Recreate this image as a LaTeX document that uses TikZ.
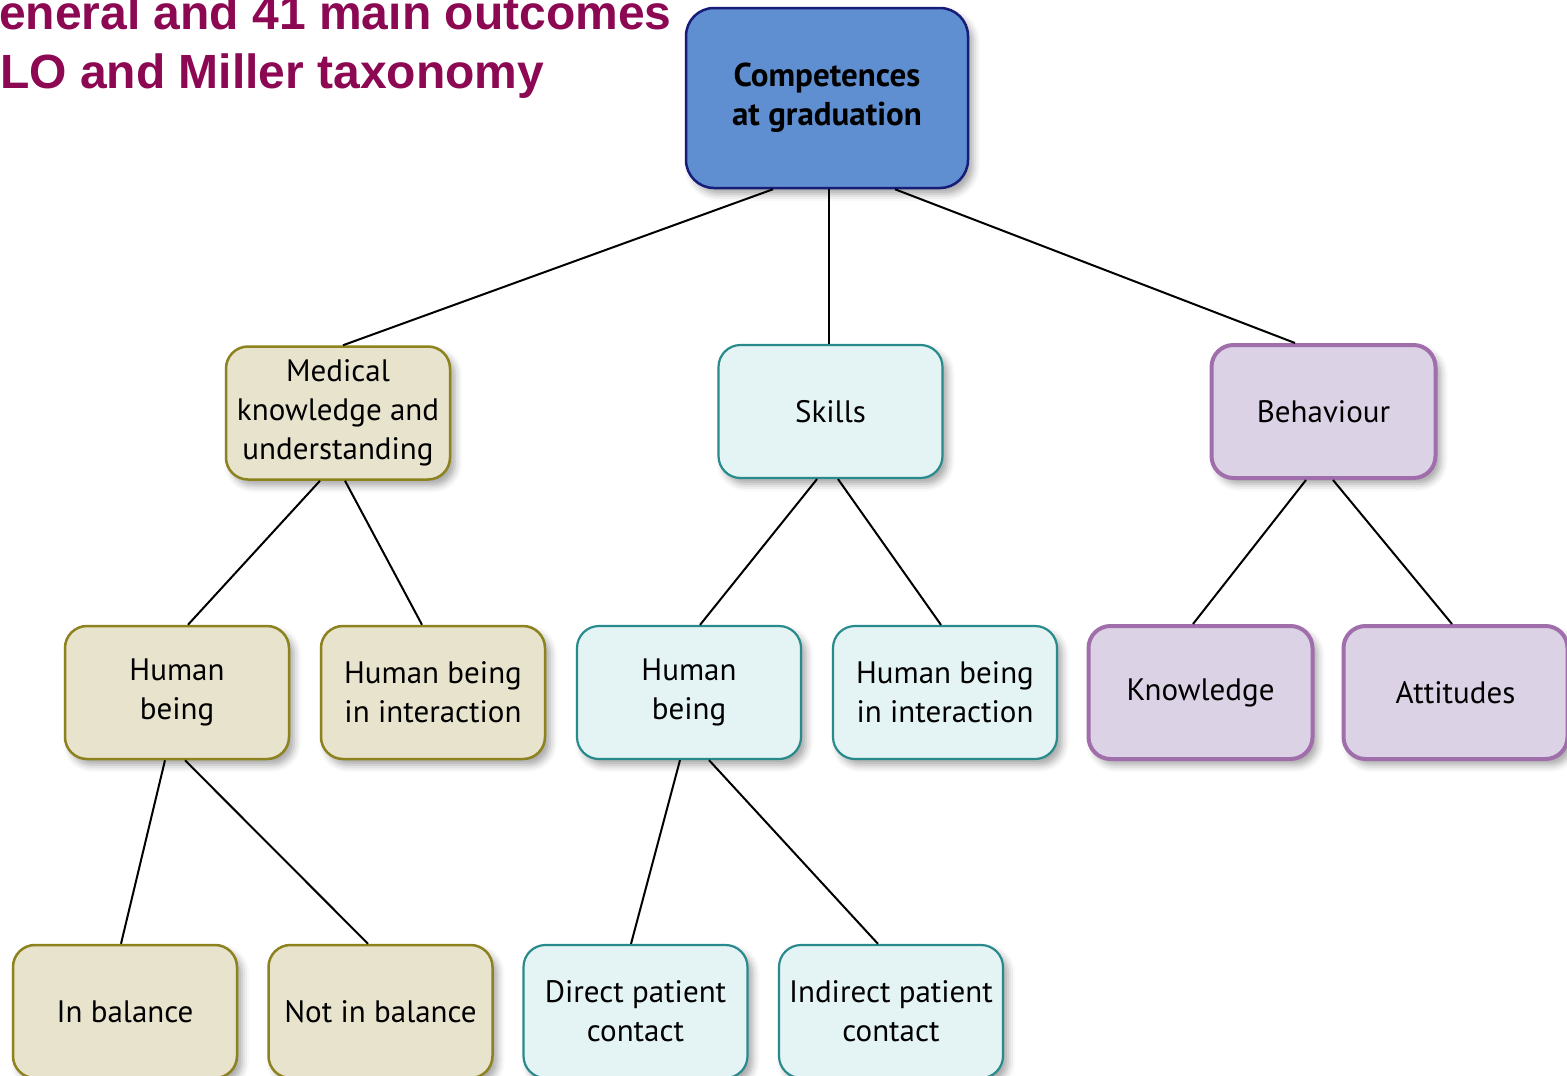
\documentclass[tikz,border=0pt]{standalone}
\usepackage{fontspec}
\setmainfont{PT Sans}
\newfontfamily\titlefont{Liberation Sans}
\usetikzlibrary{shadows.blur}
\definecolor{topfill}{RGB}{95,143,208}
\definecolor{topdraw}{RGB}{22,28,120}
\definecolor{olfill}{RGB}{232,227,205}
\definecolor{oldraw}{RGB}{140,130,30}
\definecolor{tefill}{RGB}{228,244,244}
\definecolor{tedraw}{RGB}{40,138,140}
\definecolor{pufill}{RGB}{220,210,230}
\definecolor{pudraw}{RGB}{160,110,170}
\definecolor{titlecol}{RGB}{140,8,82}
\tikzset{
  box/.style={rectangle, rounded corners=22pt, minimum width=224pt, minimum height=133pt,
    align=center, inner sep=2pt, font=\fontsize{31}{39}\selectfont,
    blur shadow={shadow xshift=5pt, shadow yshift=-6pt, shadow blur radius=7pt, shadow opacity=35}},
  olbox/.style={box, fill=olfill, draw=oldraw, line width=2.5pt},
  tebox/.style={box, fill=tefill, draw=tedraw, line width=2.2pt},
  pubox/.style={box, fill=pufill, draw=pudraw, line width=4pt},
  topbox/.style={box, fill=topfill, draw=topdraw, line width=2.5pt, minimum width=282pt,
    minimum height=180pt, rounded corners=28pt, font=\bfseries\fontsize{33}{39}\selectfont},
  link/.style={draw=black, line width=2pt},
  ttl/.style={anchor=base west, inner sep=0pt, text=titlecol, font=\titlefont\bfseries\fontsize{48}{58}\selectfont}
}
\begin{document}
\begin{tikzpicture}[x=1pt, y=-1pt]
\useasboundingbox (0,0) rectangle (1567,1076);
\clip (0,0) rectangle (1567,1076);
\node[ttl] (t1) at (-1,30) {eneral and 41 main outcomes};
\node[ttl] (t2) at (0,88) {LO and Miller taxonomy};

\node[topbox] (top) at (827,98) {Competences\\at graduation};

\node[olbox] (med) at (338,413) {Medical\\knowledge and\\understanding};
\node[tebox] (skills) at (830.5,411.5) {Skills};
\node[pubox] (beh) at (1323.5,411.5) {Behaviour};

\node[olbox] (hb1) at (177,692.5) {Human\\being};
\node[olbox] (hbi1) at (433,692.5) {Human being\\in interaction};
\node[tebox] (hb2) at (689,692.5) {Human\\being};
\node[tebox] (hbi2) at (945,692.5) {Human being\\in interaction};
\node[pubox] (know) at (1200.5,692.5) {Knowledge};
\node[pubox] (att) at (1455.5,692.5) {Attitudes};

\node[olbox] (inb) at (125,1011.5) {In balance};
\node[olbox] (notb) at (380.5,1011.5) {Not in balance};
\node[tebox] (dir) at (635.5,1011.5) {Direct patient\\contact};
\node[tebox] (ind) at (891,1011.5) {Indirect patient\\contact};

\draw[link] ([xshift=-54pt]top.south) -- ([xshift=5pt]med.north);
\draw[link] ([xshift=2pt]top.south) -- ([xshift=-1.5pt]skills.north);
\draw[link] ([xshift=68pt]top.south) -- ([xshift=-28.5pt]beh.north);
\draw[link] ([xshift=-18pt]med.south) -- ([xshift=11pt]hb1.north);
\draw[link] ([xshift=7pt]med.south) -- ([xshift=-11pt]hbi1.north);
\draw[link] ([xshift=-13.5pt]skills.south) -- ([xshift=11pt]hb2.north);
\draw[link] ([xshift=7.5pt]skills.south) -- ([xshift=-4pt]hbi2.north);
\draw[link] ([xshift=-17.5pt]beh.south) -- ([xshift=-7.5pt]know.north);
\draw[link] ([xshift=9.5pt]beh.south) -- ([xshift=-3.5pt]att.north);
\draw[link] ([xshift=-12pt]hb1.south) -- ([xshift=-4pt]inb.north);
\draw[link] ([xshift=8pt]hb1.south) -- ([xshift=-12.5pt]notb.north);
\draw[link] ([xshift=-9pt]hb2.south) -- ([xshift=-4.5pt]dir.north);
\draw[link] ([xshift=20pt]hb2.south) -- ([xshift=-13pt]ind.north);
\end{tikzpicture}
\end{document}
